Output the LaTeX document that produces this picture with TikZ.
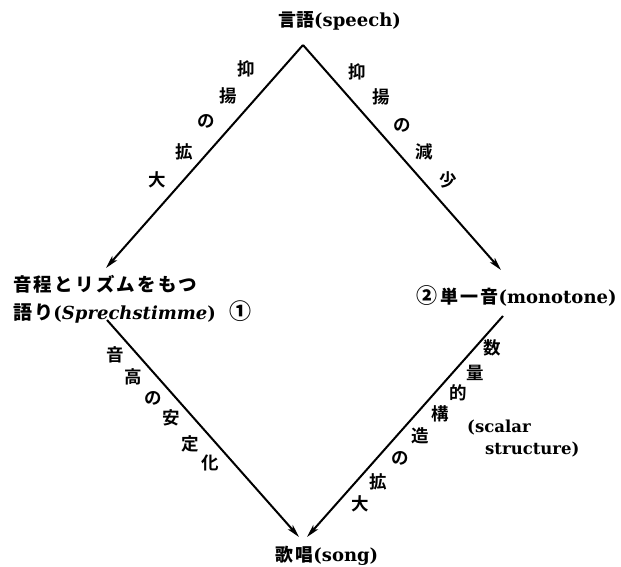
\documentclass[tikz,border=0pt]{standalone}
\usepackage{fontspec}
\setmainfont{DejaVu Serif}
\newfontfamily\jp{Noto Sans CJK JP Bold}
\newfontfamily\jpw{Noto Sans CJK JP Bold}[LetterSpace=12]
\usetikzlibrary{arrows.meta}
\begin{document}
\begin{tikzpicture}[x=1pt,y=-1pt,
  lab/.style={font=\jp\fontsize{17.5}{17.5}\selectfont, inner sep=0pt},
  main/.style={font=\bfseries\fontsize{18}{20}\selectfont, inner sep=0pt, anchor=base west},
  small/.style={main, font=\bfseries\fontsize{16.5}{20}\selectfont},
  conn/.style={line width=2pt},
  arr/.style={conn,-{Stealth[length=13pt,width=6.5pt,inset=3pt]}}]
\useasboundingbox (0,0) rectangle (621,567);
% main labels
\node[main] (speech) at (278,27) {{\jp\fontsize{18}{18}\selectfont 言語}(speech)};
\node[main] (pitch1) at (13,291) {{\jpw\fontsize{18.5}{18}\selectfont 音程とリズムをもつ}};
\node[main] (pitch2) at (13,319) {{\jpw\fontsize{19}{18}\selectfont 語り}(\textit{Sprechstimme})\hspace{14pt}{\jp\fontsize{22}{18}\selectfont ①}};
\node[main] (mono) at (416,303) {{\jp\fontsize{21}{18}\selectfont ②\hspace{3pt}}{\jpw\fontsize{18}{18}\selectfont 単一音}(monotone)};
\node[main] (song) at (275,561) {{\jpw\fontsize{18}{18}\selectfont 歌唱}(song)};
% connector end points
\coordinate (top) at (303,45);
\coordinate (l1) at (106,268);
\coordinate (r1) at (501,270);
\coordinate (l2) at (107,320);
\coordinate (r2) at (503,316);
\coordinate (b1) at (299,537);
\coordinate (b2) at (307,537);
\draw[arr] (top) -- (l1);
\draw[arr] (top) -- (r1);
\draw[arr] (l2) -- (b1);
\draw[arr] (r2) -- (b2);
% left upper
\node[lab] (a1) at (246,69) {抑};
\node[lab] (a2) at (228,96) {揚};
\node[lab] (a3) at (206,121) {の};
\node[lab] (a4) at (184,152) {拡};
\node[lab] (a5) at (157,180) {大};
% right upper
\node[lab] (b1l) at (357,72) {抑};
\node[lab] (b2l) at (381,97) {揚};
\node[lab] (b3l) at (402,125) {の};
\node[lab] (b4l) at (424,152) {減};
\node[lab] (b5l) at (448,180) {少};
% left lower
\node[lab] (c1) at (115,355) {音};
\node[lab] (c2) at (133,377) {高};
\node[lab] (c3) at (153,398) {の};
\node[lab] (c4) at (171,418) {安};
\node[lab] (c5) at (190,444) {定};
\node[lab] (c6) at (210,463) {化};
% right lower
\node[lab] (d1) at (492,348) {数};
\node[lab] (d2) at (475,373) {量};
\node[lab] (d3) at (458,393) {的};
\node[lab] (d4) at (440,414) {構};
\node[lab] (d5) at (420,436) {造};
\node[lab] (d6) at (400,458) {の};
\node[lab] (d7) at (378,482) {拡};
\node[lab] (d8) at (360,504) {大};
\node[small] (sc1) at (467,432) {(scalar};
\node[small] (sc2) at (485,454) {structure)};
\end{tikzpicture}
\end{document}
